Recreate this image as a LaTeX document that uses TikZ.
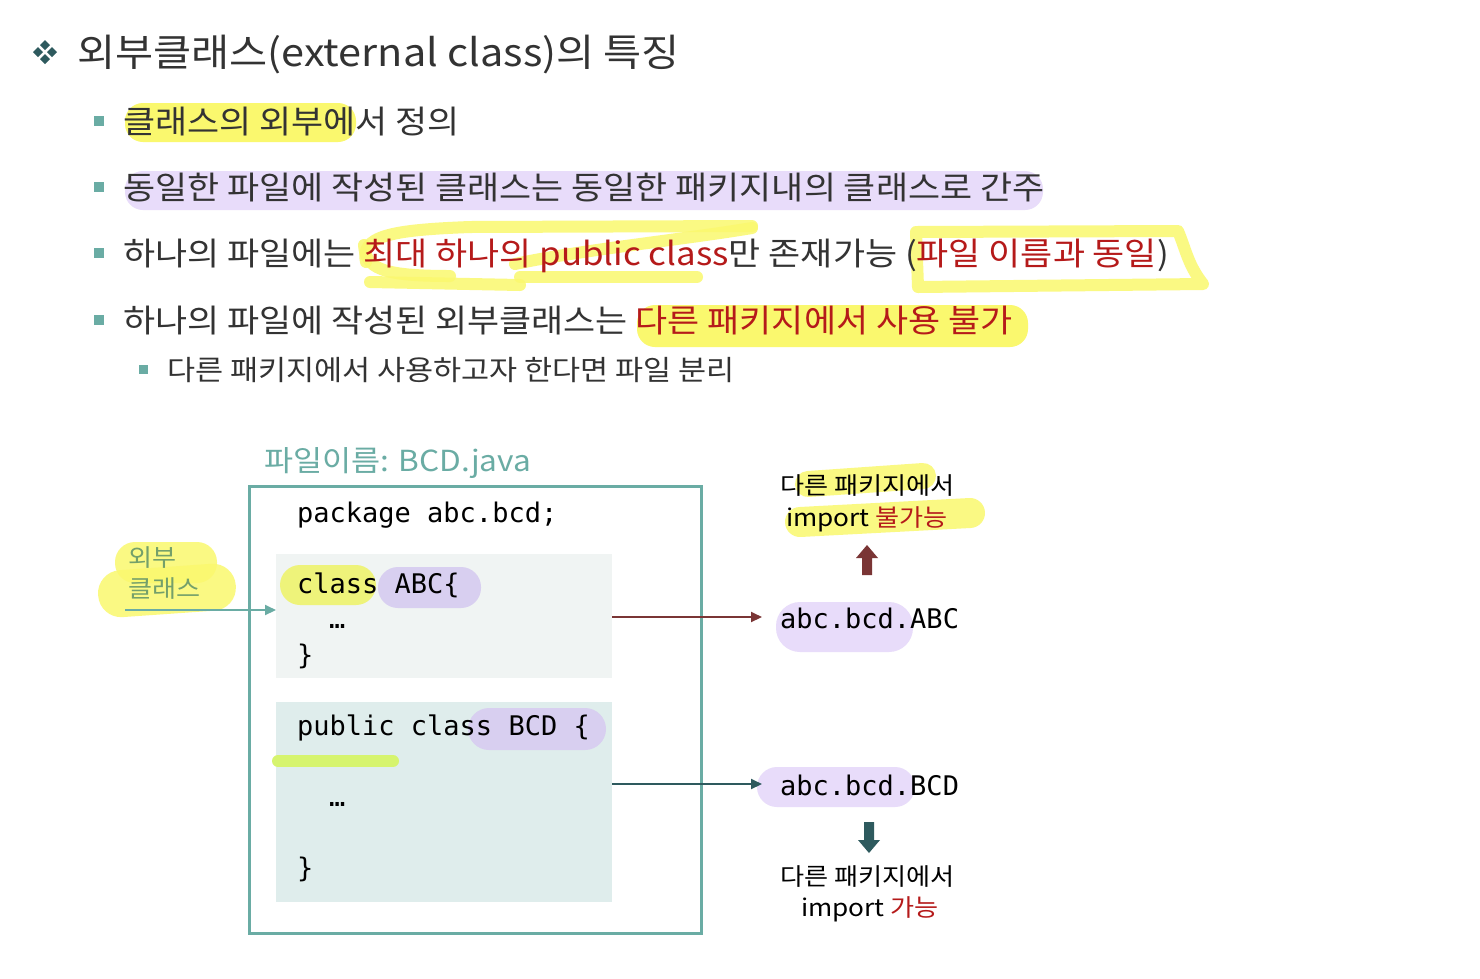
\documentclass[tikz,border=0pt]{standalone}
\usepackage{fontspec}
\usetikzlibrary{arrows.meta}
\setmainfont[FakeStretch=1.09]{Noto Sans CJK KR}
\newfontfamily\codefont{DejaVu Sans Mono}
\definecolor{txt}{HTML}{333333}
\definecolor{redt}{HTML}{B51A1A}
\definecolor{teal}{HTML}{6AACA4}
\definecolor{dteal}{HTML}{2E5A5E}
\definecolor{brown}{HTML}{7A3535}
\definecolor{hly}{HTML}{FAF86E}
\definecolor{hlp}{HTML}{E8DCFA}
\definecolor{hlpc}{HTML}{D8CFF0}
\definecolor{boxa}{HTML}{F0F4F3}
\definecolor{boxb}{HTML}{DFEDEC}
\definecolor{greent}{HTML}{74A06A}
\definecolor{codey}{HTML}{EEF37A}
\tikzset{
  txtnode/.style={inner sep=0pt, anchor=base west, text=txt},
  title/.style={txtnode, font=\fontsize{38}{44}\selectfont},
  bul/.style={txtnode, font=\fontsize{32}{38}\selectfont},
  subbul/.style={txtnode, font=\fontsize{28}{34}\selectfont},
  code/.style={inner sep=0pt, anchor=base west, text=black, font=\codefont\fontsize{27}{32}\selectfont},
  lab/.style={inner sep=0pt, anchor=base west, text=black, font=\fontsize{24}{29}\selectfont},
  sq/.style={fill=teal, draw=none},
  hlyel/.style={draw=hly, line width=12pt, line cap=round, line join=round, opacity=0.85},
}
\begin{document}
\begin{tikzpicture}[x=1pt,y=-1pt]
\fill[white] (0,0) rectangle (1480,978);
\useasboundingbox (0,0) rectangle (1480,978);

% ---- title
\foreach \dx/\dy in {0/-7,-7/0,7/0,0/7}{
  \fill[dteal] (45+\dx,52+\dy) +(0,-5) -- +(5,0) -- +(0,5) -- +(-5,0) -- cycle;
}
\node[title] (t) at (77,66) {외부클래스(external class)의 특징};

% ---- highlights behind bullet text
\fill[hly,rounded corners=18pt] (125,103) rectangle (356,142);
\fill[hlp,rounded corners=18pt] (125,171) rectangle (1043,210);
\draw[hlyel] (366,262) .. controls (360,236) and (390,230) .. (470,227) -- (752,226);
\draw[hlyel] (752,228) .. controls (680,240) and (580,250) .. (515,264);
\draw[hlyel] (370,282) -- (520,285);
\draw[hlyel] (520,277) -- (697,277);
\draw[hlyel] (364,245) .. controls (366,268) and (380,276) .. (450,276);
\draw[hlyel] (916,232) -- (1178,231) .. controls (1186,250) and (1188,265) .. (1203,284) -- (918,287) -- cycle;
\fill[hly,rounded corners=18pt] (637,305) rectangle (1028,347);

% ---- bullets
\fill[sq] (94,116) rectangle (104,126);
\node[bul] (b1) at (123,133) {클래스의 외부에서 정의};
\fill[sq] (94,182) rectangle (104,192);
\node[bul] (b2) at (123,199) {동일한 파일에 작성된 클래스는 동일한 패키지내의 클래스로 간주};
\fill[sq] (94,248) rectangle (104,258);
\node[bul] (b3) at (123,265) {하나의 파일에는 \textcolor{redt}{최대 하나의 public class}만 존재가능 (\textcolor{redt}{파일 이름과 동일})};
\fill[sq] (94,315) rectangle (104,325);
\node[bul] (b4) at (123,332) {하나의 파일에 작성된 외부클래스는 \textcolor{redt}{다른 패키지에서 사용 불가}};
\fill[sq] (139,365) rectangle (148,374);
\node[subbul] (b5) at (167,380) {다른 패키지에서 사용하고자 한다면 파일 분리};

% ---- file diagram
\node[inner sep=0pt, anchor=base west, text=teal, font=\fontsize{29}{35}\selectfont] (fname) at (264,471) {파일이름: BCD.java};
\draw[teal, line width=3pt] (249,486) rectangle (701,933);
\fill[boxa] (276,554) rectangle (612,678);
\fill[boxb] (276,702) rectangle (612,902);
\coordinate (boxaE) at (612,617);
\coordinate (boxbE) at (612,784);
\coordinate (boxaW) at (276,610);

\fill[codey,rounded corners=20pt] (280,565) rectangle (376,605);
\fill[hlpc,rounded corners=20pt] (378,567) rectangle (481,608);
\fill[hlpc,rounded corners=21pt] (468,708) rectangle (606,750);
\draw[codey!90!green, line width=12pt, line cap=round] (278,761) -- (393,761);

\node[code] (pkg) at (297,522) {package abc.bcd;};
\node[code] (cabc) at (297,593) {class ABC\{};
\node[code] (dots1) at (329,628) {…};
\node[code] (br1) at (297,664) {\}};
\node[code] (cbcd) at (297,735) {public class BCD \{};
\node[code] (dots2) at (329,806) {…};
\node[code] (br2) at (297,877) {\}};

% ---- 외부 클래스 label
\fill[hly, opacity=0.85, rounded corners=20pt] (115,542) rectangle (217,583);
\fill[hly, opacity=0.85, rotate around={4:(166,591)}, rounded corners=23pt] (98,567) rectangle (236,614);
\node[inner sep=0pt, anchor=base west, text=greent, font=\fontsize{24}{29}\selectfont] (ext1) at (128,566) {외부};
\node[inner sep=0pt, anchor=base west, text=greent, font=\fontsize{24}{29}\selectfont] (ext2) at (128,597) {클래스};
\coordinate (extS) at (125,610);
\draw[teal, line width=2pt, -{Triangle[length=11pt,width=10pt]}] (extS) -- (boxaW);

% ---- right side: ABC
\fill[hlp,rounded corners=24pt] (776,602) rectangle (913,652);
\node[code] (abc) at (780,628) {abc.bcd.ABC};
\coordinate (abcW) at (762,617);
\draw[brown, line width=2pt, -{Triangle[length=11pt,width=10pt]}] (boxaE) -- (abcW);
\draw[hly, line width=26pt, line cap=round, opacity=0.85] (808,484) -- (923,476);
\draw[hly, line width=30pt, line cap=round, opacity=0.85] (800,522) -- (970,513);
\node[lab] (no1) at (780,494) {다른 패키지에서};
\node[lab] (no2) at (786,526) {import \textcolor{redt}{불가능}};
\fill[brown] (867,545) -- (878,558) -- (872,558) -- (872,575) -- (862,575) -- (862,558) -- (856,558) -- cycle;

% ---- right side: BCD
\fill[hlp,rounded corners=20pt] (757,767) rectangle (915,807);
\node[code] (bcd) at (780,795) {abc.bcd.BCD};
\coordinate (bcdW) at (762,784);
\draw[dteal, line width=2pt, -{Triangle[length=11pt,width=10pt]}] (boxbE) -- (bcdW);
\fill[dteal] (869,853) -- (880,840) -- (874,840) -- (874,822) -- (864,822) -- (864,840) -- (858,840) -- cycle;
\node[lab] (ok1) at (780,885) {다른 패키지에서};
\node[lab] (ok2) at (801,916) {import \textcolor{redt}{가능}};
\end{tikzpicture}
\end{document}
